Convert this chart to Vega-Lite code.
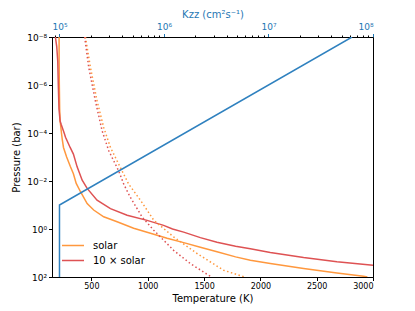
{
  "$schema": "https://vega.github.io/schema/vega-lite/v6.json",
  "width": 321,
  "height": 240,
  "autosize": {"type": "none"},
  "padding": {"left": 52, "top": 37, "right": 42, "bottom": 34},
  "background": "white",
  "config": {
    "font": "DejaVu Sans",
    "view": {"stroke": "black", "strokeWidth": 1},
    "axis": {
      "grid": false,
      "domainColor": "black",
      "domainWidth": 1,
      "tickColor": "black",
      "tickWidth": 1,
      "tickSize": 3.5,
      "labelColor": "black",
      "titleColor": "black",
      "labelFont": "DejaVu Sans",
      "titleFont": "DejaVu Sans",
      "labelFontSize": 8,
      "titleFontSize": 10,
      "titleFontWeight": "normal",
      "labelPadding": 2,
      "titlePadding": 3
    }
  },
  "datasets": {
    "profiles": [
      {"model": "solar", "kind": "pt", "T": 213, "P": 1e-8},
      {"model": "solar", "kind": "pt", "T": 213, "P": 1e-7},
      {"model": "solar", "kind": "pt", "T": 215, "P": 1e-6},
      {"model": "solar", "kind": "pt", "T": 218, "P": 1e-5},
      {"model": "solar", "kind": "pt", "T": 222, "P": 3.16e-5},
      {"model": "solar", "kind": "pt", "T": 228, "P": 5.5e-5},
      {"model": "solar", "kind": "pt", "T": 234, "P": 1e-4},
      {"model": "solar", "kind": "pt", "T": 242, "P": 2e-4},
      {"model": "solar", "kind": "pt", "T": 252, "P": 4e-4},
      {"model": "solar", "kind": "pt", "T": 280, "P": 1e-3},
      {"model": "solar", "kind": "pt", "T": 313, "P": 2.5e-3},
      {"model": "solar", "kind": "pt", "T": 340, "P": 5e-3},
      {"model": "solar", "kind": "pt", "T": 365, "P": 1.26e-2},
      {"model": "solar", "kind": "pt", "T": 403, "P": 2.8e-2},
      {"model": "solar", "kind": "pt", "T": 462, "P": 8.7e-2},
      {"model": "solar", "kind": "pt", "T": 520, "P": 0.162},
      {"model": "solar", "kind": "pt", "T": 609, "P": 0.309},
      {"model": "solar", "kind": "pt", "T": 728, "P": 0.5},
      {"model": "solar", "kind": "pt", "T": 875, "P": 0.93},
      {"model": "solar", "kind": "pt", "T": 1024, "P": 1.51},
      {"model": "solar", "kind": "pt", "T": 1172, "P": 2.45},
      {"model": "solar", "kind": "pt", "T": 1319, "P": 3.7},
      {"model": "solar", "kind": "pt", "T": 1467, "P": 5.75},
      {"model": "solar", "kind": "pt", "T": 1615, "P": 8.9},
      {"model": "solar", "kind": "pt", "T": 1780, "P": 14.5},
      {"model": "solar", "kind": "pt", "T": 1911, "P": 20},
      {"model": "solar", "kind": "pt", "T": 2088, "P": 27.5},
      {"model": "solar", "kind": "pt", "T": 2384, "P": 44.7},
      {"model": "solar", "kind": "pt", "T": 2680, "P": 67.6},
      {"model": "solar", "kind": "pt", "T": 2916, "P": 93.3},
      {"model": "solar", "kind": "pt", "T": 2950, "P": 100},
      {"model": "10 × solar", "kind": "pt", "T": 180, "P": 1e-8},
      {"model": "10 × solar", "kind": "pt", "T": 192, "P": 2.5e-8},
      {"model": "10 × solar", "kind": "pt", "T": 201, "P": 1e-7},
      {"model": "10 × solar", "kind": "pt", "T": 206, "P": 1e-6},
      {"model": "10 × solar", "kind": "pt", "T": 212, "P": 1e-5},
      {"model": "10 × solar", "kind": "pt", "T": 222, "P": 3.16e-5},
      {"model": "10 × solar", "kind": "pt", "T": 231, "P": 4.3e-5},
      {"model": "10 × solar", "kind": "pt", "T": 258, "P": 1e-4},
      {"model": "10 × solar", "kind": "pt", "T": 270, "P": 1.5e-4},
      {"model": "10 × solar", "kind": "pt", "T": 311, "P": 4e-4},
      {"model": "10 × solar", "kind": "pt", "T": 340, "P": 7.6e-4},
      {"model": "10 × solar", "kind": "pt", "T": 373, "P": 2.57e-3},
      {"model": "10 × solar", "kind": "pt", "T": 418, "P": 9.3e-3},
      {"model": "10 × solar", "kind": "pt", "T": 462, "P": 2.04e-2},
      {"model": "10 × solar", "kind": "pt", "T": 550, "P": 6.3e-2},
      {"model": "10 × solar", "kind": "pt", "T": 669, "P": 0.141},
      {"model": "10 × solar", "kind": "pt", "T": 817, "P": 0.269},
      {"model": "10 × solar", "kind": "pt", "T": 994, "P": 0.437},
      {"model": "10 × solar", "kind": "pt", "T": 1141, "P": 0.708},
      {"model": "10 × solar", "kind": "pt", "T": 1220, "P": 1.0},
      {"model": "10 × solar", "kind": "pt", "T": 1319, "P": 1.35},
      {"model": "10 × solar", "kind": "pt", "T": 1467, "P": 2.29},
      {"model": "10 × solar", "kind": "pt", "T": 1615, "P": 3.55},
      {"model": "10 × solar", "kind": "pt", "T": 1780, "P": 5.25},
      {"model": "10 × solar", "kind": "pt", "T": 1911, "P": 6.6},
      {"model": "10 × solar", "kind": "pt", "T": 2088, "P": 9.55},
      {"model": "10 × solar", "kind": "pt", "T": 2384, "P": 15.5},
      {"model": "10 × solar", "kind": "pt", "T": 2680, "P": 23.4},
      {"model": "10 × solar", "kind": "pt", "T": 3000, "P": 32.4},
      {"model": "solar", "kind": "cond", "T": 447, "P": 1e-8},
      {"model": "solar", "kind": "cond", "T": 491, "P": 1.82e-7},
      {"model": "solar", "kind": "cond", "T": 550, "P": 4.57e-6},
      {"model": "solar", "kind": "cond", "T": 609, "P": 5.9e-5},
      {"model": "solar", "kind": "cond", "T": 669, "P": 4e-4},
      {"model": "solar", "kind": "cond", "T": 757, "P": 2.75e-3},
      {"model": "solar", "kind": "cond", "T": 831, "P": 1.35e-2},
      {"model": "solar", "kind": "cond", "T": 935, "P": 6.3e-2},
      {"model": "solar", "kind": "cond", "T": 1053, "P": 0.427},
      {"model": "solar", "kind": "cond", "T": 1230, "P": 2.14},
      {"model": "solar", "kind": "cond", "T": 1438, "P": 10.5},
      {"model": "solar", "kind": "cond", "T": 1674, "P": 52.5},
      {"model": "solar", "kind": "cond", "T": 1860, "P": 100},
      {"model": "10 × solar", "kind": "cond", "T": 440, "P": 1e-8},
      {"model": "10 × solar", "kind": "cond", "T": 476, "P": 1.82e-7},
      {"model": "10 × solar", "kind": "cond", "T": 535, "P": 4.57e-6},
      {"model": "10 × solar", "kind": "cond", "T": 595, "P": 8.1e-5},
      {"model": "10 × solar", "kind": "cond", "T": 654, "P": 5.5e-4},
      {"model": "10 × solar", "kind": "cond", "T": 742, "P": 3.8e-3},
      {"model": "10 × solar", "kind": "cond", "T": 787, "P": 1.35e-2},
      {"model": "10 × solar", "kind": "cond", "T": 843, "P": 4.57e-2},
      {"model": "10 × solar", "kind": "cond", "T": 950, "P": 0.316},
      {"model": "10 × solar", "kind": "cond", "T": 1053, "P": 1.12},
      {"model": "10 × solar", "kind": "cond", "T": 1230, "P": 7.76},
      {"model": "10 × solar", "kind": "cond", "T": 1378, "P": 27.5},
      {"model": "10 × solar", "kind": "cond", "T": 1565, "P": 100}
    ],
    "kzz": [
      {"Kzz": 100000, "P": 100},
      {"Kzz": 100000, "P": 0.1},
      {"Kzz": 63000000, "P": 1e-8}
    ]
  },
  "layer": [
    {
      "layer": [
        {
          "data": {"name": "profiles"},
          "transform": [{"filter": "datum.kind == 'pt'"}],
          "mark": {"type": "line", "strokeWidth": 1.5, "clip": true},
          "encoding": {
            "x": {
              "field": "T", "type": "quantitative",
              "scale": {"domain": [150, 3000], "nice": false, "zero": false},
              "axis": {"orient": "bottom", "values": [500, 1000, 1500, 2000, 2500, 3000], "title": "Temperature (K)", "format": "d"}
            },
            "y": {
              "field": "P", "type": "quantitative",
              "scale": {"type": "log", "domain": [1e-8, 100], "reverse": true, "nice": false},
              "axis": {
                "values": [1e-8, 1e-6, 1e-4, 1e-2, 1, 100],
                "title": "Pressure (bar)",
                "titlePadding": 5,
                "labelFontSize": 9,
                "labelExpr": "'10' + replace(replace(replace(replace(replace(replace(replace(replace(replace('' + round(log(datum.value)/LN10), '-', '⁻'), '0', '⁰'), '1', '¹'), '2', '²'), '4', '⁴'), '5', '⁵'), '6', '⁶'), '7', '⁷'), '8', '⁸')"
              }
            },
            "color": {
              "field": "model", "type": "nominal",
              "scale": {"domain": ["solar", "10 × solar"], "range": ["#ff983e", "#de5253"]},
              "legend": {
                "title": null,
                "orient": "bottom-left",
                "offset": 9,
                "symbolType": "stroke",
                "symbolSize": 484,
                "symbolStrokeWidth": 1.5,
                "clipHeight": 15,
                "labelFontSize": 10,
                "labelFont": "DejaVu Sans",
                "labelColor": "black",
                "labelOffset": 8,
                "rowPadding": 0,
                "padding": 0
              }
            },
            "order": {"field": "P", "type": "quantitative"}
          }
        },
        {
          "data": {"name": "profiles"},
          "transform": [{"filter": "datum.kind == 'cond'"}],
          "mark": {"type": "line", "strokeWidth": 1.5, "strokeDash": [1.5, 2.5], "clip": true},
          "encoding": {
            "x": {"field": "T", "type": "quantitative"},
            "y": {"field": "P", "type": "quantitative"},
            "color": {"field": "model", "type": "nominal"},
            "order": {"field": "P", "type": "quantitative"}
          }
        }
      ]
    },
    {
      "data": {"name": "kzz"},
      "mark": {"type": "line", "strokeWidth": 1.5, "color": "#2f81bf", "clip": true},
      "encoding": {
        "x": {
          "field": "Kzz", "type": "quantitative",
          "scale": {"type": "log", "domain": [84800, 100000000], "nice": false},
          "axis": {
            "orient": "top",
            "title": "Kzz (cm²s⁻¹)",
            "titleColor": "#1f77b4",
            "labelColor": "#1f77b4",
            "labelFontSize": 9,
            "titlePadding": 3,
            "values": [90000, 100000, 200000, 300000, 400000, 500000, 600000, 700000, 800000, 900000, 1000000, 2000000, 3000000, 4000000, 5000000, 6000000, 7000000, 8000000, 9000000, 10000000, 20000000, 30000000, 40000000, 50000000, 60000000, 70000000, 80000000, 90000000, 100000000],
            "tickSize": {"condition": {"test": "abs(log(datum.value)/LN10 - round(log(datum.value)/LN10)) < 0.001", "value": 3.5}, "value": 2},
            "tickColor": {"condition": {"test": "abs(log(datum.value)/LN10 - round(log(datum.value)/LN10)) < 0.001", "value": "#1f77b4"}, "value": "black"},
            "labelExpr": "abs(log(datum.value)/LN10 - round(log(datum.value)/LN10)) < 0.001 ? '10' + replace(replace(replace(replace('' + round(log(datum.value)/LN10), '5', '⁵'), '6', '⁶'), '7', '⁷'), '8', '⁸') : ''"
          }
        },
        "y": {"field": "P", "type": "quantitative"},
        "order": {"field": "P", "type": "quantitative"}
      }
    }
  ],
  "resolve": {"scale": {"x": "independent"}, "axis": {"x": "independent"}}
}
